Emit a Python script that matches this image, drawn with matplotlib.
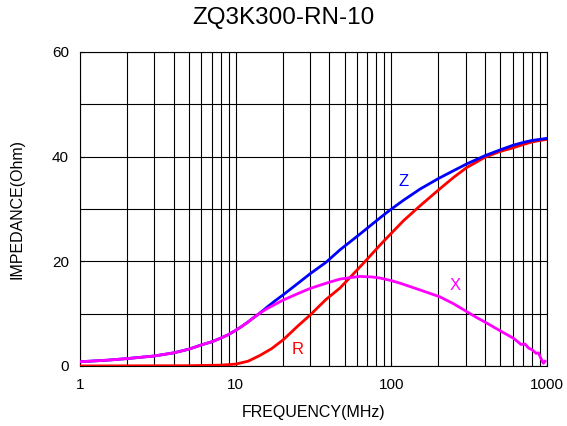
import numpy as np
import matplotlib
matplotlib.use("Agg")
import matplotlib.pyplot as plt

plt.rcParams['font.family'] = ['Liberation Sans', 'DejaVu Sans']

# impedance data (MHz, Ohm)
freq_x = [1, 1.5, 2, 3, 4, 5, 6, 7, 8, 9, 10, 11, 12, 13, 14.3, 16, 18, 20.2,
          25.9, 30, 38, 46.8, 55, 62.8, 75, 84.5, 100, 114, 150, 205, 250,
          304, 350, 409, 500, 607, 680, 720, 760, 800, 850, 880, 910, 946, 970]
x_vals = [0.8, 1.1, 1.4, 1.9, 2.5, 3.2, 4.0, 4.6, 5.3, 6.0, 6.8, 7.6, 8.4,
          9.2, 10.1, 11.0, 11.8, 12.6, 14.0, 14.8, 15.8, 16.6, 16.9, 17.1,
          17.0, 16.8, 16.3, 15.8, 14.6, 13.2, 11.9, 10.4, 9.3, 8.2, 6.7, 5.3,
          4.1, 4.2, 3.4, 3.1, 2.4, 2.5, 1.5, 0.5, 0.9]

freq_z = [1, 1.5, 2, 3, 4, 5, 6, 7, 8, 9, 10, 11, 12, 13, 14.3, 16, 18, 20.2,
          25.9, 30, 38, 46.8, 62.8, 84.5, 98, 120, 152.7, 200, 250, 304, 400,
          500, 607, 700, 800, 900, 1000]
z_vals = [0.8, 1.1, 1.4, 1.9, 2.5, 3.2, 4.0, 4.6, 5.3, 6.0, 6.8, 7.6, 8.4,
          9.2, 10.1, 11.3, 12.5, 13.6, 16.1, 17.6, 19.8, 22.2, 25.2, 28.3,
          29.8, 31.7, 33.8, 35.8, 37.3, 38.6, 40.2, 41.3, 42.2, 42.7, 43.1,
          43.3, 43.5]

freq_r = [1, 5, 8, 10, 12, 14.3, 17, 20.2, 25, 30, 38, 46.8, 55, 69.4, 84.5,
          98, 120, 152.7, 200, 250, 304, 400, 500, 607, 700, 800, 900, 1000]
r_vals = [0.0, 0.05, 0.15, 0.35, 0.9, 2.0, 3.3, 5.0, 7.6, 9.7, 12.7, 14.9,
          17.1, 20.3, 23.1, 25.1, 27.8, 30.6, 33.6, 36.0, 37.9, 39.9, 41.0,
          41.7, 42.3, 42.8, 43.1, 43.3]

fig = plt.figure(figsize=(5.67, 4.26), dpi=100)
ax = fig.add_axes([0.141, 0.141, 0.824, 0.737])

ax.plot(freq_r, r_vals, color='#ff0000', linewidth=2.0, zorder=3)
ax.plot(freq_z, z_vals, color='#0000ff', linewidth=2.0, zorder=4)
ax.plot(freq_x, x_vals, color='#ff00ff', linewidth=2.0, zorder=5)

ax.set_xscale('log')
ax.set_xlim(1, 1000)
ax.set_ylim(0, 60)
ax.set_xticks([1, 10, 100, 1000])
ax.set_xticklabels(['1', '10', '100', '1000'])
ax.set_yticks([0, 20, 40, 60])
ax.set_yticks([10, 30, 50], minor=True)
ax.grid(True, which='both', color='black', linewidth=0.8)
ax.tick_params(which='major', direction='in', length=3, labelsize=11)
ax.tick_params(axis='x', which='major', pad=9)
ax.tick_params(axis='y', which='major', pad=8)
ax.tick_params(which='minor', length=0)
for s in ax.spines.values():
    s.set_linewidth(0.8)

ax.text(120, 35.3, 'Z', color='#0000ff', fontsize=12, ha='center', va='center')
ax.text(258, 15.3, 'X', color='#ff00ff', fontsize=12, ha='center', va='center')
ax.text(25, 3.2, 'R', color='#ff0000', fontsize=12, ha='center', va='center')

fig.text(0.5, 1 - 18 / 426, 'ZQ3K300-RN-10', fontsize=17.5, ha='center', va='center')
ax.set_xlabel('FREQUENCY(MHz)', fontsize=11.5, labelpad=9)
ax.set_ylabel('IMPEDANCE(Ohm)', fontsize=11.5, labelpad=20)

fig.savefig('out.png', dpi=100)
